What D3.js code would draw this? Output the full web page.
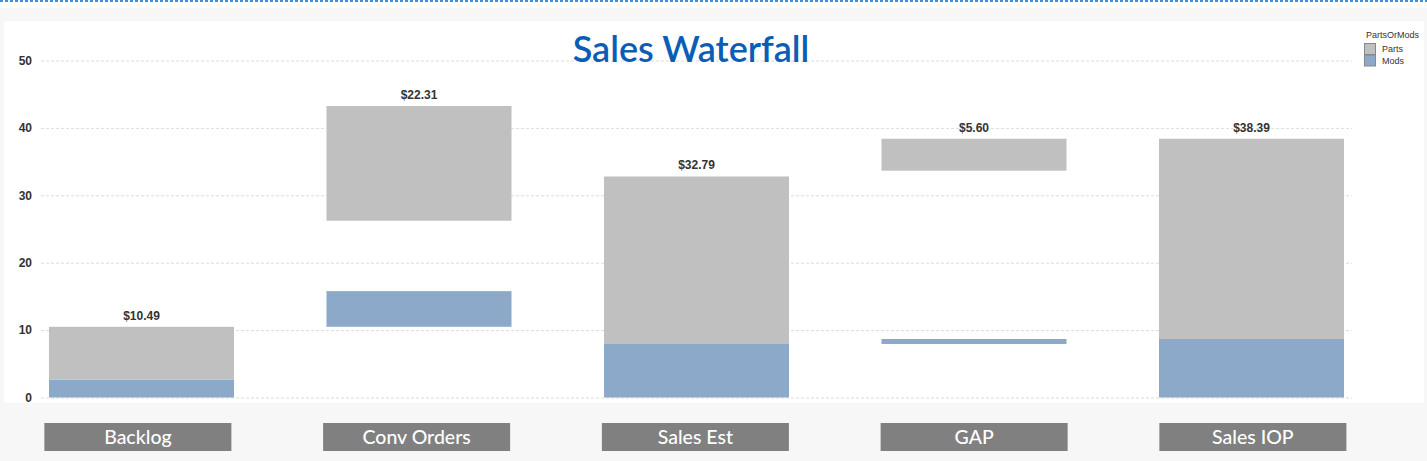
<!DOCTYPE html>
<html>
<head>
<meta charset="utf-8">
<script src="https://cdn.jsdelivr.net/npm/d3@7"></script>
<style>
  html, body { margin: 0; padding: 0; background: #ffffff; }
  svg { display: block; }
</style>
</head>
<body>
<svg id="chart" width="1427" height="461"></svg>
<script>
// ---- data ----
const categories = ["Backlog", "Conv Orders", "Sales Est", "GAP", "Sales IOP"];
const modsStart  = [0, 10.49, 0, 7.94, 0];
const modsEnd    = [2.62, 15.78, 7.94, 8.68, 8.68];
const partsStart = [2.62, 26.23, 7.94, 33.65, 8.68];
const partsEnd   = [10.49, 43.25, 32.79, 38.39, 38.39];
const totalLabels = ["$10.49", "$22.31", "$32.79", "$5.60", "$38.39"];
const yTicks = [0, 10, 20, 30, 40, 50];
const seriesNames = ["Parts", "Mods"];
const legendTitle = "PartsOrMods";
const chartTitle = "Sales Waterfall";

const colors = { Parts: "#c0c0c0", Mods: "#8ca9c9" };

const svg = d3.select("#chart");
const W = 1427, H = 461;

// background frame
svg.append("rect").attr("x", 0).attr("y", 0).attr("width", W).attr("height", H).attr("fill", "#ffffff");
svg.append("line").attr("x1", 0).attr("x2", W).attr("y1", 1).attr("y2", 1)
  .attr("stroke", "#3d8fd9").attr("stroke-width", 2).attr("stroke-dasharray", "3,2");
svg.append("rect").attr("x", 0).attr("y", 8).attr("width", W).attr("height", H - 8).attr("fill", "#f7f7f7");
svg.append("rect").attr("x", 4).attr("y", 21).attr("width", 1420).attr("height", 382).attr("fill", "#ffffff");

// scales
const y = d3.scaleLinear().domain([0, 50]).range([397.5, 60.5]);
const x = d3.scaleBand().domain(categories).range([2.75, 1390.25])
  .paddingInner(1/3).paddingOuter(1/6);
const xLab = d3.scaleBand().domain(categories).range([-1.5, 1392.25])
  .paddingInner(0.329).paddingOuter(0.1645);

const gridLeft = 41, gridRight = 1352;

// y axis with gridlines
const yAxis = d3.axisLeft(y).tickValues(yTicks).tickSize(-(gridRight - gridLeft)).tickPadding(9);
const gy = svg.append("g").attr("transform", `translate(${gridLeft},0)`).call(yAxis);
gy.select(".domain").remove();
gy.selectAll(".tick line").attr("stroke", "#dcdcdc").attr("stroke-dasharray", "3,2");
gy.selectAll(".tick text")
  .attr("fill", "#333").attr("font-family", "'Liberation Sans', Arial, sans-serif")
  .attr("font-size", 12).attr("font-weight", "bold");

// bars
const rows = categories.map((c, i) => ({ c, i }));
const gBars = svg.append("g");
gBars.selectAll("rect.mods").data(rows).join("rect").attr("class", "mods")
  .attr("x", d => x(d.c)).attr("width", x.bandwidth())
  .attr("y", d => y(modsEnd[d.i])).attr("height", d => y(modsStart[d.i]) - y(modsEnd[d.i]))
  .attr("fill", colors.Mods);
gBars.selectAll("rect.parts").data(rows).join("rect").attr("class", "parts")
  .attr("x", d => x(d.c)).attr("width", x.bandwidth())
  .attr("y", d => y(partsEnd[d.i])).attr("height", d => y(partsStart[d.i]) - y(partsEnd[d.i]))
  .attr("fill", colors.Parts);

// value labels
svg.append("g").selectAll("text").data(rows).join("text")
  .attr("x", d => x(d.c) + x.bandwidth() / 2)
  .attr("y", d => y(Math.max(partsEnd[d.i], modsEnd[d.i])) - 7)
  .attr("text-anchor", "middle")
  .attr("fill", "#333").attr("font-family", "'Liberation Sans', Arial, sans-serif")
  .attr("font-size", 12).attr("font-weight", "bold")
  .text(d => totalLabels[d.i]);

// category label boxes
const gCat = svg.append("g");
gCat.selectAll("rect").data(rows).join("rect")
  .attr("x", d => xLab(d.c)).attr("width", xLab.bandwidth())
  .attr("y", 423).attr("height", 28).attr("fill", "#808080");
gCat.selectAll("text").data(rows).join("text")
  .attr("x", d => xLab(d.c) + xLab.bandwidth() / 2)
  .attr("y", 444)
  .attr("text-anchor", "middle").attr("fill", "#ffffff")
  .attr("font-family", "Lato, 'Open Sans', sans-serif").attr("font-size", 19.5)
  .attr("font-weight", "500")
  .text(d => d.c);

// title
svg.append("text").attr("x", 691).attr("y", 62).attr("text-anchor", "middle")
  .attr("fill", "#0a5eb5").attr("font-family", "Lato, 'Open Sans', sans-serif")
  .attr("font-size", 36).attr("font-weight", "600")
  .text(chartTitle);

// legend
const lg = svg.append("g");
lg.append("text").attr("x", 1366).attr("y", 38).attr("fill", "#333")
  .attr("font-family", "'Liberation Sans', Arial, sans-serif").attr("font-size", 9)
  .text(legendTitle);
seriesNames.forEach((s, k) => {
  lg.append("rect").attr("x", 1364.5).attr("y", 43.5 + k * 11.5).attr("width", 11).attr("height", 11)
    .attr("fill", colors[s]).attr("stroke", "#888").attr("stroke-width", 1);
  lg.append("text").attr("x", 1382).attr("y", 52 + k * 11.5).attr("fill", "#333")
    .attr("font-family", "'Liberation Sans', Arial, sans-serif").attr("font-size", 9)
    .text(s);
});
</script>
</body>
</html>
